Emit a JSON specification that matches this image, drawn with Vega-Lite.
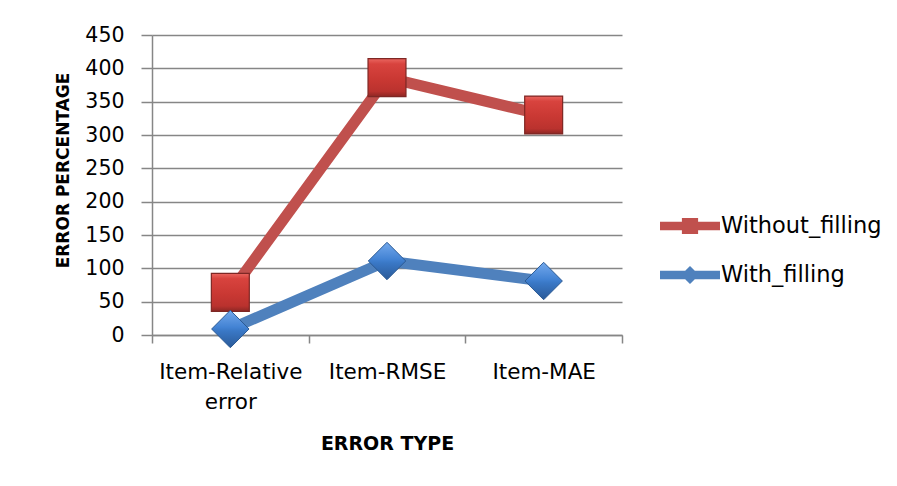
{
  "$schema": "https://vega.github.io/schema/vega-lite/v6.json",
  "width": 470,
  "height": 300,
  "autosize": {"type": "none"},
  "padding": {"left": 152, "top": 35, "right": 275, "bottom": 151},
  "background": "white",
  "config": {
    "font": "DejaVu Sans",
    "view": {"stroke": null},
    "axis": {
      "domainColor": "#868686",
      "domainWidth": 1.5,
      "tickColor": "#868686",
      "tickWidth": 1.5,
      "gridColor": "#868686",
      "gridWidth": 1.3,
      "gridOpacity": 1,
      "labelColor": "#000000",
      "titleColor": "#000000",
      "labelFont": "DejaVu Sans",
      "titleFont": "DejaVu Sans"
    }
  },
  "data": {
    "values": [
      {"error_type": "Item-Relative error", "series": "Without_filling", "percent": 64},
      {"error_type": "Item-RMSE", "series": "Without_filling", "percent": 386},
      {"error_type": "Item-MAE", "series": "Without_filling", "percent": 330},
      {"error_type": "Item-Relative error", "series": "With_filling", "percent": 9},
      {"error_type": "Item-RMSE", "series": "With_filling", "percent": 111},
      {"error_type": "Item-MAE", "series": "With_filling", "percent": 81}
    ]
  },
  "encoding": {
    "x": {
      "field": "error_type",
      "type": "nominal",
      "sort": ["Item-Relative error", "Item-RMSE", "Item-MAE"],
      "bandPosition": 0.5,
      "scale": {"type": "band", "paddingInner": 0, "paddingOuter": 0},
      "axis": {
        "title": "ERROR TYPE",
        "titleFontSize": 19,
        "titleFontWeight": "bold",
        "titleBaseline": "middle",
        "titleY": 108,
        "labelAngle": 0,
        "labelFontSize": 21.5,
        "labelPadding": 18,
        "labelLineHeight": 30,
        "labelExpr": "datum.label === 'Item-Relative error' ? ['Item-Relative', 'error'] : datum.label",
        "tickBand": "extent",
        "tickSize": 8,
        "grid": false
      }
    },
    "y": {
      "field": "percent",
      "type": "quantitative",
      "scale": {"domain": [0, 450], "nice": false},
      "axis": {
        "title": "ERROR PERCENTAGE",
        "titleFontSize": 17,
        "titleFontWeight": "bold",
        "titleAngle": -90,
        "titleAlign": "center",
        "titleBaseline": "middle",
        "titleX": -89,
        "titleY": 135,
        "values": [0, 50, 100, 150, 200, 250, 300, 350, 400, 450],
        "labelFontSize": 20.5,
        "labelPadding": 17,
        "tickSize": 11,
        "grid": true
      }
    }
  },
  "layer": [
    {
      "mark": {"type": "line", "strokeWidth": 11, "strokeJoin": "round"},
      "encoding": {
        "color": {
          "field": "series",
          "type": "nominal",
          "scale": {"domain": ["Without_filling", "With_filling"], "range": ["#C0504D", "#4F81BD"]},
          "legend": {
            "orient": "none",
            "legendX": 508,
            "legendY": 161,
            "title": null,
            "padding": 0,
            "labelFontSize": 22.5,
            "labelColor": "#000000",
            "labelOffset": 1,
            "labelLimit": 300,
            "rowPadding": 7,
            "symbolSize": 3600,
            "symbolType": "M-1,-0.14H1V0.14H-1Z",
            "encode": {
              "symbols": {
                "update": {
                  "shape": {"signal": "datum.value === 'Without_filling' ? 'M-1,-0.14H-0.27V-0.27H0.27V-0.14H1V0.14H0.27V0.27H-0.27V0.14H-1Z' : 'M-1,-0.14H-0.16L0,-0.3L0.16,-0.14H1V0.14H0.16L0,0.3L-0.16,0.14H-1Z'"},
                  "fill": {"signal": "datum.value === 'Without_filling' ? '#C0504D' : '#4F81BD'"},
                  "stroke": {"value": "transparent"},
                  "strokeWidth": {"value": 0},
                  "opacity": {"value": 1}
                }
              }
            }
          }
        }
      }
    },
    {
      "transform": [{"filter": "datum.series === 'Without_filling'"}],
      "mark": {
        "type": "point",
        "shape": "square",
        "size": 1440,
        "filled": true,
        "opacity": 1,
        "fill": {
          "gradient": "linear",
          "x1": 0, "y1": 0, "x2": 0, "y2": 1,
          "stops": [
            {"offset": 0, "color": "#EA6660"},
            {"offset": 0.14, "color": "#D8433E"},
            {"offset": 0.55, "color": "#C93833"},
            {"offset": 0.86, "color": "#BA322E"},
            {"offset": 1, "color": "#8C2724"}
          ]
        },
        "stroke": "#7E2724",
        "strokeWidth": 1.2
      }
    },
    {
      "transform": [{"filter": "datum.series === 'With_filling'"}],
      "mark": {
        "type": "point",
        "shape": "diamond",
        "size": 1400,
        "filled": true,
        "opacity": 1,
        "fill": {
          "gradient": "linear",
          "x1": 0, "y1": 0, "x2": 0, "y2": 1,
          "stops": [
            {"offset": 0, "color": "#74A9EC"},
            {"offset": 0.45, "color": "#4383D4"},
            {"offset": 0.55, "color": "#3A78C6"},
            {"offset": 1, "color": "#2A5A98"}
          ]
        },
        "stroke": "#2B5A94",
        "strokeWidth": 1
      }
    }
  ]
}
